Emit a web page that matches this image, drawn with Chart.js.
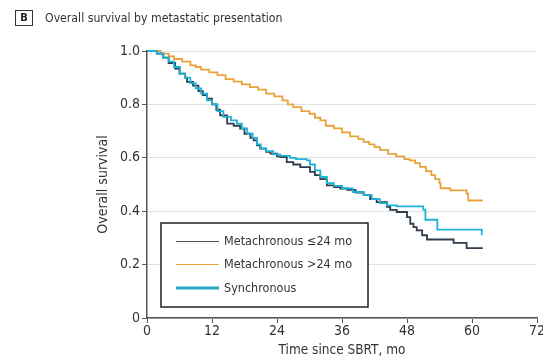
<!DOCTYPE html>
<html>
<head>
<meta charset="utf-8">
<script src="https://cdn.jsdelivr.net/npm/chart.js@4.4.1/dist/chart.umd.min.js"></script>
<style>
  html, body { margin: 0; padding: 0; background: #fff; }
  #wrap { width: 543px; height: 363px; }
</style>
</head>
<body>
<div id="wrap"><canvas id="kmChart" width="543" height="363"></canvas></div>
<script>
// Kaplan-Meier curves: overall survival by metastatic presentation

// Metachronous <=24 mo
const metaShortTime = [0, 1.8, 3, 4, 5.2, 6, 7, 7.4, 8.5, 9.5, 10.3, 11.1, 12, 12.8, 13.5, 14.8, 16, 17.2, 18, 19.1, 19.7, 20.3, 20.9, 22, 22.8, 24, 24.6, 25.8, 27, 28.3, 30.1, 31, 32, 33.2, 34.5, 35.7, 37, 38.5, 40, 41.2, 42.4, 44.3, 44.9, 46.1, 48, 48.6, 49.2, 49.8, 50.8, 51.7, 56.6, 59, 62];
const metaShortSurv = [1, 0.99, 0.975, 0.955, 0.934, 0.915, 0.9, 0.884, 0.87, 0.85, 0.835, 0.822, 0.8, 0.78, 0.759, 0.728, 0.72, 0.709, 0.69, 0.675, 0.665, 0.647, 0.634, 0.622, 0.616, 0.605, 0.603, 0.584, 0.575, 0.565, 0.547, 0.535, 0.52, 0.497, 0.49, 0.485, 0.48, 0.47, 0.46, 0.445, 0.434, 0.416, 0.405, 0.397, 0.378, 0.353, 0.34, 0.328, 0.31, 0.294, 0.281, 0.262, 0.262];

// Metachronous >24 mo
const metaLongTime = [0, 2.5, 4, 5, 6.5, 8, 9, 10, 11.5, 13, 14.5, 16, 17.5, 19, 20.5, 22, 23.5, 25, 26, 27, 28.5, 30, 31, 32, 33, 34.5, 36, 37.5, 39, 40, 41, 42, 43, 44.5, 46, 47.5, 48.5, 49.5, 50.4, 51.5, 52.5, 53.2, 54, 54.2, 56, 59, 59.3, 62];
const metaLongSurv = [1, 0.99, 0.98, 0.97, 0.96, 0.946, 0.94, 0.93, 0.92, 0.91, 0.895, 0.885, 0.875, 0.865, 0.855, 0.84, 0.83, 0.815, 0.8, 0.79, 0.775, 0.765, 0.75, 0.74, 0.72, 0.71, 0.695, 0.68, 0.67, 0.66, 0.65, 0.64, 0.63, 0.615, 0.605, 0.595, 0.59, 0.58, 0.566, 0.55, 0.535, 0.52, 0.505, 0.486, 0.478, 0.466, 0.44, 0.44];

// Synchronous
const syncTime = [0, 1.8, 3, 4, 5, 6.1, 7, 8, 9, 10, 11.1, 12, 13, 14.1, 15.5, 16.6, 17.5, 18.5, 19.5, 20.3, 21, 22, 23.3, 24.6, 26.4, 27.5, 29.5, 30.1, 31, 32, 33.2, 34.5, 36, 38, 40, 41.5, 43, 44.3, 46.1, 51, 51.4, 53.6, 61.8];
const syncSurv = [1, 0.99, 0.975, 0.96, 0.94, 0.915, 0.9, 0.88, 0.86, 0.84, 0.815, 0.8, 0.775, 0.753, 0.74, 0.728, 0.71, 0.69, 0.675, 0.65, 0.635, 0.625, 0.613, 0.607, 0.6, 0.595, 0.59, 0.575, 0.553, 0.528, 0.505, 0.495, 0.485, 0.472, 0.46, 0.445, 0.43, 0.422, 0.418, 0.406, 0.368, 0.331, 0.31];

const xTicks = [0, 12, 24, 36, 48, 60, 72];
const yTicks = [0, 0.2, 0.4, 0.6, 0.8, 1.0];

const FONT = "'Liberation Sans Narrow', 'DejaVu Sans Condensed', 'Liberation Sans', sans-serif";

function toPoints(times, surv) {
  return times.map((t, i) => ({ x: t, y: surv[i] }));
}

// legend sample styles (the sample for Synchronous is drawn thicker)
const legendItems = [
  { label: "Metachronous \u226424 mo", color: "#4a5560", width: 1.2 },
  { label: "Metachronous >24 mo", color: "#e8a33c", width: 1.2 },
  { label: "Synchronous", color: "#2aa9cc", width: 3 },
];

// panel letter + heading
const headingPlugin = {
  id: "heading",
  afterDraw(chart) {
    const ctx = chart.ctx;
    ctx.save();
    ctx.strokeStyle = "#333";
    ctx.lineWidth = 1;
    ctx.strokeRect(15.5, 10.5, 17, 15);
    ctx.fillStyle = "#222";
    ctx.font = "bold 11px " + FONT;
    ctx.textAlign = "center";
    ctx.textBaseline = "middle";
    ctx.fillText("B", 24, 18.5);
    ctx.font = "12.2px " + FONT;
    ctx.textAlign = "left";
    ctx.fillStyle = "#333";
    ctx.fillText("Overall survival by metastatic presentation", 45, 18.5);
    ctx.restore();
  },
};

// boxed legend inside the plot area
const boxLegendPlugin = {
  id: "boxLegend",
  afterDraw(chart) {
    const ctx = chart.ctx;
    ctx.save();
    ctx.fillStyle = "#fff";
    ctx.fillRect(161, 223, 207, 84);
    ctx.strokeStyle = "#222";
    ctx.lineWidth = 1.5;
    ctx.strokeRect(161, 223, 207, 84);
    const rows = [241.5, 264.5, 288];
    ctx.font = "12.5px " + FONT;
    ctx.textBaseline = "middle";
    legendItems.forEach((item, i) => {
      ctx.beginPath();
      ctx.strokeStyle = item.color;
      ctx.lineWidth = item.width;
      ctx.moveTo(176, rows[i]);
      ctx.lineTo(219, rows[i]);
      ctx.stroke();
      ctx.fillStyle = "#333";
      ctx.fillText(item.label, 224, rows[i] + 0.5);
    });
    ctx.restore();
  },
};

const ctx = document.getElementById("kmChart");
const kmChart = new Chart(ctx, {
  type: "line",
  data: {
    datasets: [
      {
        label: "Metachronous \u226424 mo",
        data: toPoints(metaShortTime, metaShortSurv),
        borderColor: "#2f3d4c",
        borderWidth: 1.8,
        stepped: true,
        pointRadius: 0,
        clip: false,
        order: 2,
      },
      {
        label: "Metachronous >24 mo",
        data: toPoints(metaLongTime, metaLongSurv),
        borderColor: "#e8a33c",
        borderWidth: 1.8,
        stepped: true,
        pointRadius: 0,
        clip: false,
        order: 3,
      },
      {
        label: "Synchronous",
        data: toPoints(syncTime, syncSurv),
        borderColor: "#1fb2d8",
        borderWidth: 1.8,
        stepped: true,
        pointRadius: 0,
        clip: false,
        order: 1,
      },
    ],
  },
  options: {
    responsive: false,
    animation: false,
    layout: { padding: { top: 51, left: 95, right: 0, bottom: 0 } },
    scales: {
      x: {
        type: "linear",
        min: 0,
        max: 72,
        afterBuildTicks: (scale) => {
          scale.ticks = xTicks.map((v) => ({ value: v }));
        },
        afterFit: (scale) => {
          scale.height = 45;
          scale.paddingRight = 6; // let the last label run to the edge
        },
        border: { color: "#555", width: 1.5 },
        grid: { drawOnChartArea: false, tickColor: "#555", tickLength: 5 },
        ticks: {
          color: "#333",
          font: { family: FONT, size: 14 },
          padding: 0,
          maxRotation: 0,
        },
        title: {
          display: true,
          text: "Time since SBRT, mo",
          color: "#333",
          font: { family: FONT, size: 13.5 },
          padding: { top: 0, bottom: 4 },
        },
      },
      y: {
        min: 0,
        max: 1,
        afterBuildTicks: (scale) => {
          scale.ticks = yTicks.map((v) => ({ value: v }));
        },
        afterFit: (scale) => {
          scale.width = 52;
        },
        border: { color: "#555", width: 1.5, z: 1 },
        grid: { color: "#e2e2e2", tickColor: "#555", tickLength: 5, lineWidth: 1 },
        ticks: {
          color: "#333",
          font: { family: FONT, size: 14 },
          padding: 2,
          callback: (v) => (v === 0 ? "0" : v.toFixed(1)),
        },
        title: {
          display: true,
          text: "Overall survival",
          color: "#333",
          font: { family: FONT, size: 14 },
          padding: 0,
        },
      },
    },
    plugins: {
      legend: { display: false },
      title: { display: false },
      tooltip: { enabled: false },
    },
  },
  plugins: [headingPlugin, boxLegendPlugin],
});
</script>
</body>
</html>
